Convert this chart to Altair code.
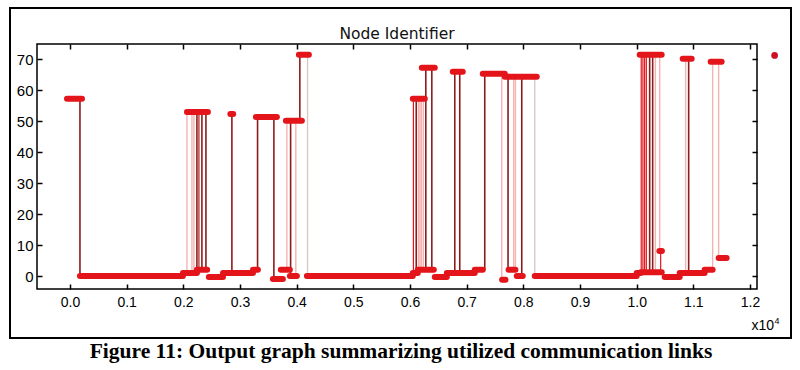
import altair as alt
import pandas as pd

# ---- runs of dots (plateaus): start time, end time, node id ----
run_x0 = [-53, 176, 1993, 2240, 2450, 2700, 3230, 2830, 2064, 3281,
          3580, 3720, 3880, 3810, 4039, 4180, 6049, 6137, 6437, 6650,
          7143, 6049, 6208, 6755, 7284, 7672, 7625, 7740, 7884, 8201,
          10000, 10053, 10400, 10071, 10494, 10759, 11199, 10812, 11305, 11446]
run_x1 = [212, 1993, 2240, 2420, 2700, 3230, 3316, 2880, 2434, 3651,
          3757, 3880, 4004, 4092, 4215, 6049, 6137, 6420, 6650, 7143,
          7284, 6261, 6437, 6931, 7672, 8237, 7685, 7860, 7990, 10000,
          10071, 10441, 10445, 10441, 10759, 11199, 11340, 10970, 11499, 11587]
run_y = [57.3, 0, 1, 2, -0.3, 1, 2, 52.4, 53, 51.4,
         -1, 2, 0, 50.2, 71.5, 0, 1, 2, -0.3, 1,
         2, 57.3, 67.3, 66, 65.4, 64.4, -1.2, 2, 0, 0,
         1, 71.5, 8.1, 1.2, -0.3, 1, 2, 70.2, 69.3, 5.8]

# ---- vertical links between node ids ----
link_x = [176, 2064, 2152, 2187, 2240, 2275, 2328, 2399, 2857, 3310,
          3598, 3827, 3893, 3985, 4056, 4192, 6060, 6110, 6150, 6175,
          6200, 6235, 6279, 6385, 6790, 6878, 7319, 7619, 7730, 7830,
          7860, 7972, 8201, 10080, 10110, 10140, 10170, 10229, 10282, 10330,
          10406, 10423, 10864, 10917, 11340, 11446]
link_y0 = [0, 1, 1, 1, 1, 1, 2, 2, 1, 2,
           -1, 2, 0, 0, 50.2, 0, 1, 1, 2, 2,
           2, 2, 2, 2, 1, 1, 2, -1.2, 2, 2,
           2, 0, 0, 1, 1, 1, 1, 1, 1, 1,
           8.1, 1.2, 1, 1, 2, 5.8]
link_y1 = [57.3, 53, 53, 53, 53, 53, 53, 53, 52.4, 51.4,
           51.4, 50.2, 50.2, 50.2, 71.5, 71.5, 57.3, 57.3, 57.3, 57.3,
           57.3, 57.3, 67.3, 67.3, 66, 66, 65.4, 65.4, 65.4, 64.4,
           64.4, 64.4, 64.4, 71.5, 71.5, 71.5, 71.5, 71.5, 71.5, 71.5,
           71.5, 8.1, 70.2, 70.2, 69.3, 69.3]
link_kind = ["dark", "light", "light", "light", "dark", "mid", "dark", "dark", "dark", "dark",
             "dark", "light", "dark", "light", "dark", "grey", "red", "dark", "light", "light",
             "light", "light", "dark", "dark", "dark", "dark", "dark", "light", "dark", "light",
             "light", "dark", "grey", "red", "red", "red", "red", "dark", "dark", "light",
             "light", "red", "light", "dark", "light", "light"]

extra_x = [12434]
extra_y = [71.3]

x_ticks = [0, 1000, 2000, 3000, 4000, 5000, 6000, 7000, 8000, 9000, 10000, 11000, 12000]
y_ticks = [0, 10, 20, 30, 40, 50, 60, 70]

runs = pd.DataFrame({"x": run_x0, "x2": run_x1, "y": run_y})
links = pd.DataFrame({"x": link_x, "y": link_y0, "y2": link_y1, "kind": link_kind})
extra = pd.DataFrame({"x": extra_x, "y": extra_y})

W, H = 720, 245
RED = "#e3151b"
LF = "Liberation Sans"

xs = alt.Scale(domain=[-582, 12123], nice=False, zero=False)
ys = alt.Scale(domain=[-4.2, 75], nice=False, zero=False)

x_axis = alt.Axis(values=x_ticks, labelExpr="format(datum.value / 10000, '.1f')",
                  offset=-5, tickSize=5, tickWidth=1.5, tickColor="black",
                  domain=False, grid=False, labelFont=LF, labelFontSize=14,
                  labelColor="black", labelPadding=6)
y_axis = alt.Axis(values=y_ticks, offset=-5, tickSize=5, tickWidth=1.5, tickColor="black",
                  domain=False, grid=False, labelFont=LF, labelFontSize=15,
                  labelColor="black", labelPadding=4)

frame = alt.Chart(pd.DataFrame({"a": [0]})).mark_rect(
    fillOpacity=0, stroke="black", strokeWidth=2
).encode(x=alt.value(-27), x2=alt.value(754), y=alt.value(-36), y2=alt.value(294))

link_layer = alt.Chart(links).mark_rule().encode(
    x=alt.X("x:Q", scale=xs, axis=x_axis, title=None),
    y=alt.Y("y:Q", scale=ys, axis=y_axis, title=None),
    y2="y2:Q",
    color=alt.Color("kind:N", legend=None,
                    scale=alt.Scale(domain=["dark", "mid", "light", "grey", "red"],
                                    range=["#8c1c1c", "#c04a4a", "#f3b3b3", "#d9c3c3", RED])),
    strokeWidth=alt.StrokeWidth("kind:N", legend=None,
                                scale=alt.Scale(domain=["dark", "mid", "light", "grey", "red"],
                                                range=[1.6, 1.2, 1.0, 1.0, 2.5])),
)

run_layer = alt.Chart(runs).mark_rule(color=RED, strokeWidth=6, strokeCap="round").encode(
    x=alt.X("x:Q", scale=xs, axis=x_axis, title=None),
    x2="x2:Q",
    y=alt.Y("y:Q", scale=ys, axis=y_axis, title=None),
)

extra_layer = alt.Chart(extra).mark_point(filled=True, color="#cc1024", size=45, opacity=1).encode(
    x=alt.X("x:Q", scale=xs, axis=x_axis, title=None),
    y=alt.Y("y:Q", scale=ys, axis=y_axis, title=None),
)

title_layer = alt.Chart(pd.DataFrame({"t": ["Node Identifier"]})).mark_text(
    font="DejaVu Sans", fontSize=15.5, color="#111", align="center", baseline="alphabetic"
).encode(x=alt.value(360), y=alt.value(-5), text="t:N")

exp_base = alt.Chart(pd.DataFrame({"t": ["x10"]})).mark_text(
    font=LF, fontSize=14, color="black", align="right", baseline="alphabetic"
).encode(x=alt.value(737), y=alt.value(286), text="t:N")
exp_sup = alt.Chart(pd.DataFrame({"t": ["4"]})).mark_text(
    font=LF, fontSize=9, color="black", align="left", baseline="alphabetic"
).encode(x=alt.value(737.5), y=alt.value(280), text="t:N")

caption = alt.Chart(pd.DataFrame({"t": ["Figure 11: Output graph summarizing utilized communication links"]})).mark_text(
    font="Liberation Serif", fontSize=21.5, fontWeight="bold", color="black",
    align="center", baseline="alphabetic"
).encode(x=alt.value(364), y=alt.value(314), text="t:N")

inner = alt.layer(frame, link_layer, run_layer, extra_layer, title_layer, exp_base, exp_sup, caption)

ticks = alt.Chart(pd.DataFrame({"x": [0], "y": [0]})).mark_point(opacity=0).encode(
    x=alt.X("x:Q", scale=xs, title=None,
            axis=alt.Axis(orient="top", values=x_ticks, labels=False, offset=-5, tickSize=5,
                          tickWidth=1.5, tickColor="black", domain=False, grid=False)),
    y=alt.Y("y:Q", scale=ys, title=None,
            axis=alt.Axis(orient="right", values=y_ticks, labels=False, offset=-5, tickSize=5,
                          tickWidth=1.5, tickColor="black", domain=False, grid=False)),
)

chart = alt.layer(inner, ticks).resolve_scale(x="independent", y="independent").properties(
    width=W, height=H,
    padding={"left": 37, "top": 44, "right": 43, "bottom": 81},
    autosize=alt.AutoSizeParams(type="none"),
    background="white",
).configure_view(stroke="black", strokeWidth=1.5)

chart.save("out.html", embed_options={"renderer": "svg", "actions": False})
